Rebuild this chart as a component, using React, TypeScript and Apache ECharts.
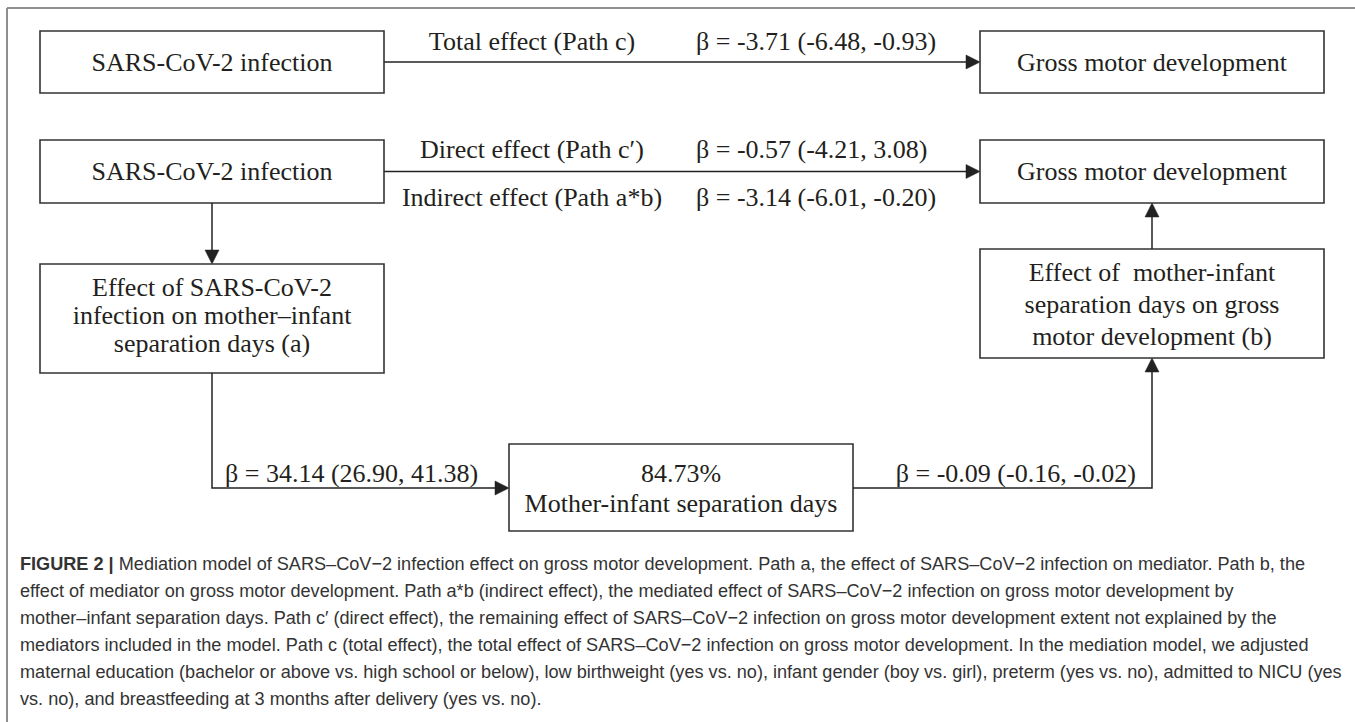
import React, { useEffect, useRef } from "react";
import * as echarts from "echarts";

// ---------- data (texts & values) ----------
const exposureLabel = "SARS-CoV-2 infection";
const outcomeLabel = "Gross motor development";
const pathLabels = ["Total effect (Path c)", "Direct effect (Path c\u2032)", "Indirect effect (Path a*b)"];
const pathBetas = ["\u03b2 = -3.71 (-6.48, -0.93)", "\u03b2 = -0.57 (-4.21, 3.08)", "\u03b2 = -3.14 (-6.01, -0.20)"];
const pathABeta = ["\u03b2 = 34.14 (26.90, 41.38)"];
const pathBBeta = ["\u03b2 = -0.09 (-0.16, -0.02)"];
const pathALines = ["Effect of SARS-CoV-2", "infection on mother\u2013infant", "separation days (a)"];
const pathBLines = ["Effect of  mother-infant", "separation days on gross", "motor development (b)"];
const mediatorLines = ["84.73%", "Mother-infant separation days"];
const captionBold = "FIGURE 2 |";
const captionLines = [
  " Mediation model of SARS\u2013CoV\u22122 infection effect on gross motor development. Path a, the effect of SARS\u2013CoV\u22122 infection on mediator. Path b, the",
  "effect of mediator on gross motor development. Path a*b (indirect effect), the mediated effect of SARS\u2013CoV\u22122 infection on gross motor development by",
  "mother\u2013infant separation days. Path c\u2032 (direct effect), the remaining effect of SARS\u2013CoV\u22122 infection on gross motor development extent not explained by the",
  "mediators included in the model. Path c (total effect), the total effect of SARS\u2013CoV\u22122 infection on gross motor development. In the mediation model, we adjusted",
  "maternal education (bachelor or above vs. high school or below), low birthweight (yes vs. no), infant gender (boy vs. girl), preterm (yes vs. no), admitted to NICU (yes",
  "vs. no), and breastfeeding at 3 months after delivery (yes vs. no).",
];

// ---------- styling ----------
const SERIF_FAMILY = "'Liberation Serif', 'Times New Roman', serif";
const SANS_FAMILY = "'Liberation Sans', Arial, sans-serif";
const DIAGRAM_FONT = `26px ${SERIF_FAMILY}`;
const CAP_SIZE = 18.5;
const CAP_FONT = `${CAP_SIZE}px ${SANS_FAMILY}`;
const CAP_BOLD_FONT = `bold ${CAP_SIZE}px ${SANS_FAMILY}`;
const INK = "#231f20";
const LINE = "#222";
const CAP_COLOR = "#333";

function measure(text: string, font: string): number {
  const ctx = document.createElement("canvas").getContext("2d");
  if (!ctx) return text.length * 8;
  ctx.font = font;
  return ctx.measureText(text).width;
}

function txt(text: string, x: number, y: number, align: string = "center", font: string = DIAGRAM_FONT): any {
  return {
    type: "text",
    x,
    y,
    silent: true,
    style: {
      text,
      x: 0,
      y: 0,
      font,
      fill: INK,
      textAlign: align,
      textVerticalAlign: "middle",
      align,
      verticalAlign: "middle",
    },
  };
}

function box(x: number, y: number, w: number, h: number): any {
  return {
    type: "rect",
    shape: { x, y, width: w, height: h },
    style: { fill: "#fff", stroke: "#333", lineWidth: 1.6 },
  };
}

function head(tx: number, ty: number, dir: "right" | "down" | "up"): any {
  const L = 14;
  const W = 7;
  let pts: number[][];
  if (dir === "right") pts = [[tx, ty], [tx - L, ty - W], [tx - L, ty + W]];
  else if (dir === "down") pts = [[tx, ty], [tx - W, ty - L], [tx + W, ty - L]];
  else pts = [[tx, ty], [tx - W, ty + L], [tx + W, ty + L]];
  return { type: "polygon", shape: { points: pts }, style: { fill: LINE, stroke: LINE, lineWidth: 0.5 } };
}

function seg(points: number[][]): any {
  return { type: "polyline", shape: { points }, style: { stroke: LINE, lineWidth: 1.5, fill: null } };
}

export default function App() {
  const ref = useRef<HTMLDivElement>(null);

  useEffect(() => {
    document.body.style.margin = "0";
    if (!ref.current) return;
    const chart = echarts.init(ref.current, null, { renderer: "svg" });

    // layout
    const BW = 344;
    const LX = 40;
    const RX = 980;
    const lcx = LX + BW / 2;
    const rcx = RX + BW / 2;
    const r1 = { y: 31, h: 62 };
    const r2 = { y: 140, h: 63 };
    const boxA = { x: LX, y: 264, h: 109 };
    const boxB = { x: RX, y: 249, h: 109 };
    const boxM = { x: 509, y: 444, h: 87 };
    const midY = 488;
    const labelCx = 532;
    const betaX = 696;

    const els: any[] = [];

    // outer frame
    els.push({ type: "line", shape: { x1: 7, y1: 8, x2: 1355, y2: 8 }, style: { stroke: "#8f8f8f", lineWidth: 2 } });
    els.push({ type: "line", shape: { x1: 7, y1: 8, x2: 7, y2: 722 }, style: { stroke: "#8f8f8f", lineWidth: 2 } });

    // row 1 (total effect)
    const y1 = r1.y + r1.h / 2;
    els.push(seg([[LX + BW, y1], [RX - 12, y1]]));
    els.push(head(RX, y1, "right"));
    els.push(box(LX, r1.y, BW, r1.h));
    els.push(box(RX, r1.y, BW, r1.h));
    els.push(txt(exposureLabel, lcx, y1));
    els.push(txt(outcomeLabel, rcx, y1));
    els.push(txt(pathLabels[0], labelCx, 41));
    els.push(txt(pathBetas[0], betaX, 41, "left"));

    // row 2 (direct / indirect)
    const y2 = r2.y + r2.h / 2;
    els.push(seg([[LX + BW, y2], [RX - 12, y2]]));
    els.push(head(RX, y2, "right"));
    els.push(box(LX, r2.y, BW, r2.h));
    els.push(box(RX, r2.y, BW, r2.h));
    els.push(txt(exposureLabel, lcx, y2));
    els.push(txt(outcomeLabel, rcx, y2));
    els.push(txt(pathLabels[1], labelCx, 149));
    els.push(txt(pathBetas[1], betaX, 149, "left"));
    els.push(txt(pathLabels[2], labelCx, 197));
    els.push(txt(pathBetas[2], betaX, 197, "left"));

    // exposure -> path a box
    els.push(seg([[lcx, r2.y + r2.h], [lcx, boxA.y - 12]]));
    els.push(head(lcx, boxA.y, "down"));

    // path a box
    els.push(box(boxA.x, boxA.y, BW, boxA.h));
    pathALines.forEach((t, i) => els.push(txt(t, lcx, 287 + i * 28)));

    // path a -> mediator
    els.push(seg([[lcx, boxA.y + boxA.h], [lcx, midY], [boxM.x - 12, midY]]));
    els.push(head(boxM.x, midY, "right"));
    els.push(txt(pathABeta[0], 225, 473, "left"));

    // mediator box
    els.push(box(boxM.x, boxM.y, BW, boxM.h));
    const mcx = boxM.x + BW / 2;
    els.push(txt(mediatorLines[0], mcx, 473));
    els.push(txt(mediatorLines[1], mcx, 503));

    // mediator -> path b box
    els.push(seg([[boxM.x + BW, midY], [rcx, midY], [rcx, boxB.y + boxB.h + 12]]));
    els.push(head(rcx, boxB.y + boxB.h, "up"));
    els.push(txt(pathBBeta[0], 1136, 473, "right"));

    // path b box
    els.push(box(boxB.x, boxB.y, BW, boxB.h));
    pathBLines.forEach((t, i) => els.push(txt(t, rcx, 272 + i * 32)));

    // path b box -> outcome
    els.push(seg([[rcx, boxB.y], [rcx, r2.y + r2.h + 12]]));
    els.push(head(rcx, r2.y + r2.h, "up"));

    // caption: one common horizontal condensing factor fitted to the first line
    const capX = 20;
    const capY0 = 563;
    const capDY = 27;
    const firstRight = 1306;
    const wb = measure(captionBold, CAP_BOLD_FONT);
    const w0 = measure(captionLines[0], CAP_FONT);
    const s = (firstRight - capX) / (wb + w0);
    captionLines.forEach((line, i) => {
      const y = capY0 + i * capDY;
      if (i === 0) {
        const b = txt(captionBold, capX, y, "left", CAP_BOLD_FONT);
        b.scaleX = s;
        b.style.fill = CAP_COLOR;
        const r = txt(line, capX + wb * s, y, "left", CAP_FONT);
        r.scaleX = s;
        r.style.fill = CAP_COLOR;
        els.push(b, r);
      } else {
        const t = txt(line, capX, y, "left", CAP_FONT);
        t.scaleX = s;
        t.style.fill = CAP_COLOR;
        els.push(t);
      }
    });

    chart.setOption({
      animation: false,
      backgroundColor: "#ffffff",
      graphic: { elements: els },
    });

    return () => chart.dispose();
  }, []);

  return <div ref={ref} style={{ width: 1355, height: 722 }} />;
}
